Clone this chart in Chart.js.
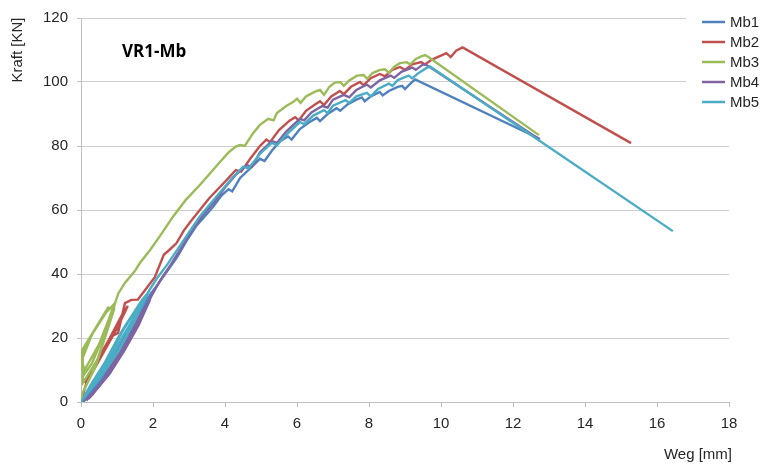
<!DOCTYPE html>
<html>
<head>
<meta charset="utf-8">
<script src="https://cdn.jsdelivr.net/npm/chart.js@4.4.0/dist/chart.umd.min.js"></script>
<style>
  html, body { margin: 0; padding: 0; background: #ffffff; }
  #wrap { width: 763px; height: 465px; position: relative; }
</style>
</head>
<body>
<div id="wrap"><canvas id="c" width="763" height="465"></canvas></div>
<script>
// Load-displacement curves, test series VR1-Mb: [Weg mm, Kraft kN]
const seriesNames  = ['Mb1', 'Mb2', 'Mb3', 'Mb4', 'Mb5'];
const seriesColors = ['#4F81BD', '#C0504D', '#9BBB59', '#8064A2', '#4BACC6'];
const xTicks = [0, 2, 4, 6, 8, 10, 12, 14, 16, 18];
const yTicks = [0, 20, 40, 60, 80, 100, 120];

const mb1 = [
  [0.0,0],[0.5,6],[1.0,14],[1.5,24],[1.85,32],[1.7,30.5],[1.3,22.5],[0.85,13.5],[0.35,4],[0.15,0.5],
  [0.65,7.5],[1.15,16.5],[1.6,26],[1.9,33],[1.75,31],[1.35,23.5],[0.9,14.5],[0.4,5],[0.2,1],
  [0.8,9],[1.3,18.5],[1.75,29],[1.92,33.5],[1.8,31.5],[1.4,24.5],[0.95,15.5],[0.45,6],[0.25,1.5],
  [0.75,9.5],[1.25,18.5],[1.7,28.5],[1.95,34],[2.15,37],[2.4,41],[2.67,45.3],[2.94,50.5],[3.2,55],
  [3.4,57.5],[3.67,61],[3.9,64.5],[4.1,66.5],[4.2,65.8],[4.42,70],[4.7,73],[4.97,76],[5.1,75.3],
  [5.3,78.5],[5.53,81.5],[5.75,83],[5.85,82],[6.08,85.3],[6.35,87.5],[6.55,88.8],[6.64,87.8],
  [6.85,90],[7.1,91.8],[7.2,91],[7.4,93],[7.65,94.5],[7.8,95.2],[7.88,94],[8.05,95.5],[8.3,96.9],
  [8.38,95.8],[8.55,97.2],[8.8,98.5],[8.92,98.8],[9.0,97.8],[9.15,99.5],[9.28,100.8],[12.75,82.2]
];

const mb2 = [
  [0.0,0],[0.15,6],[0.4,11],[0.7,17],[1.0,23],[1.3,30],[1.15,27.5],[0.8,20],[0.45,13],[0.2,8],
  [0.1,6],[0.35,10],[0.6,15],[0.85,20.5],[1.03,21.6],[1.1,25],[1.22,30.9],[1.4,31.9],[1.58,32],
  [1.85,36],[2.05,39],[2.3,46],[2.45,47.5],[2.65,49.6],[2.85,53.5],[3.05,56.5],[3.3,60],[3.55,63.5],
  [3.8,66.5],[4.05,69.4],[4.3,72.5],[4.45,72],[4.7,76],[4.97,80],[5.15,82],[5.25,81.2],[5.5,85],
  [5.8,88],[5.95,89],[6.05,88],[6.25,91],[6.5,93],[6.64,94],[6.75,92.8],[6.95,95.5],[7.19,97.2],
  [7.3,96.2],[7.5,98.5],[7.75,100],[7.85,99],[8.05,101.2],[8.3,102.5],[8.45,101.8],[8.65,103.8],
  [8.86,104.7],[9.0,103.8],[9.2,105.5],[9.45,106.2],[9.55,105.5],[9.75,107],[9.95,108],[10.15,109],
  [10.27,107.8],[10.42,109.8],[10.6,110.8],[15.28,80.9]
];

const mb3 = [
  [0.0,0],[0.05,3],[0.4,11],[0.75,23],[0.92,29],[0.75,29.5],[0.4,23],[0.02,16],[0.05,8],[0.3,12],
  [0.6,20],[0.9,30],[0.7,28.5],[0.35,22],[0.05,15],[0.05,6],[0.45,13],[0.8,25],[0.95,31],[0.7,28],
  [0.3,21],[0.02,13],[0.1,10],[0.5,18],[0.9,29.5],[1.04,34],[1.22,37.2],[1.5,41],[1.64,43.5],
  [1.92,47.5],[2.2,52],[2.56,58],[2.9,63],[3.3,67.8],[3.55,71],[3.86,75],[4.1,78],[4.3,79.8],
  [4.42,80.3],[4.55,80],[4.78,84],[4.97,86.6],[5.2,88.5],[5.35,88],[5.44,90.3],[5.7,92.5],[5.9,93.8],
  [6.0,94.8],[6.1,93.5],[6.25,95.5],[6.5,97],[6.64,97.5],[6.75,96],[6.9,98.5],[7.05,99.8],[7.2,100],
  [7.3,98.8],[7.45,100.5],[7.67,102],[7.85,102.2],[7.95,101],[8.1,102.8],[8.3,103.8],[8.45,104],
  [8.55,102.8],[8.7,104.8],[8.86,105.9],[9.05,106.2],[9.15,105.5],[9.3,107.2],[9.45,108],[9.56,108.4],
  [9.65,107.8],[12.72,83.4]
];

const mb4 = [
  [0.05,0],[0.4,3.5],[0.8,9],[1.2,16],[1.6,24],[1.8,29],[1.6,26],[1.1,15.5],[0.6,6.5],[0.2,1],
  [0.25,1.5],[0.7,8],[1.2,17],[1.7,27],[1.85,30.5],[1.65,27.5],[1.15,17.5],[0.65,7.5],[0.3,2],
  [0.75,8.5],[1.25,17.5],[1.72,27.5],[1.95,33],[2.2,38],[2.5,43],[2.8,48.5],[3.1,54],[3.4,58.5],
  [3.7,62.5],[4.0,67],[4.3,71],[4.6,74],[4.75,73.5],[4.97,78],[5.3,81.5],[5.45,81],[5.7,84.5],
  [6.08,88.5],[6.2,88],[6.4,90.5],[6.7,92.5],[6.85,92],[7.0,94.5],[7.3,96],[7.45,95.2],[7.65,97.5],
  [7.94,99.2],[8.05,98.3],[8.3,100.5],[8.6,102],[8.7,101.3],[8.9,103.2],[9.2,104.5],[9.3,103.8],
  [9.5,105.5],[9.6,105.3],[12.72,82.2]
];

const mb5 = [
  [0.0,0],[0.4,6],[0.9,15],[1.4,25],[1.8,33],[1.65,31],[1.2,23],[0.7,13],[0.25,5],[0.1,2],
  [0.55,8],[1.1,17],[1.55,27],[1.85,34],[1.7,32],[1.15,22.5],[0.6,11],[0.2,3.5],[0.05,1],
  [0.5,7],[1.05,16],[1.5,25.5],[1.82,33],[1.6,30],[1.05,20.5],[0.55,10],[0.15,2.5],
  [0.45,7.5],[0.95,16.5],[1.45,26],[1.9,35],[2.1,38.5],[2.4,43],[2.7,48],[3.0,53],[3.3,58],
  [3.6,62],[3.9,66],[4.2,70],[4.5,73.5],[4.65,73],[4.97,77.5],[5.3,81],[5.45,80.3],[5.7,83.5],
  [6.08,87.5],[6.2,86.8],[6.45,89.5],[6.75,91.2],[6.85,90.3],[7.0,92.6],[7.35,94.3],[7.45,93.5],
  [7.65,95.5],[7.94,96.6],[8.05,95.5],[8.25,97.8],[8.55,99.5],[8.65,98.8],[8.8,100.6],[9.1,102],
  [9.2,101.2],[9.4,103],[9.6,104.4],[9.7,104.8],[16.44,53.4]
];

const seriesData = [mb1, mb2, mb3, mb4, mb5];
const FONT = '"Liberation Sans", Arial, sans-serif';
const AXIS_GREY = '#bfbfbf';
const GRID_GREY = '#cfcfcf';
const TEXT = '#262626';

// Legend, chart title and axis captions painted on top of the plot
const decor = {
  id: 'decor',
  afterDraw(chart) {
    const ctx = chart.ctx;
    ctx.save();
    // legend panel (white, hides the grid behind it)
    ctx.fillStyle = '#ffffff';
    ctx.fillRect(686, 0, 77, 112);
    ctx.font = '15px ' + FONT;
    ctx.textBaseline = 'middle';
    ctx.textAlign = 'left';
    seriesNames.forEach((name, i) => {
      const y = 22 + i * 20;
      ctx.strokeStyle = seriesColors[i];
      ctx.lineWidth = 2.5;
      ctx.beginPath();
      ctx.moveTo(702, y);
      ctx.lineTo(725, y);
      ctx.stroke();
      ctx.fillStyle = TEXT;
      ctx.fillText(name, 730, y + 1);
    });
    // chart title
    ctx.font = 'bold 17px "Open Sans", ' + FONT;
    ctx.textBaseline = 'alphabetic';
    ctx.fillStyle = '#000000';
    ctx.fillText('VR1-Mb', 122, 57);
    // axis captions
    ctx.font = '15px ' + FONT;
    ctx.fillStyle = TEXT;
    ctx.textAlign = 'right';
    ctx.textBaseline = 'middle';
    ctx.fillText('Weg [mm]', 732, 455);
    ctx.translate(18, 50);
    ctx.rotate(-Math.PI / 2);
    ctx.textAlign = 'center';
    ctx.fillText('Kraft [KN]', 0, 0);
    ctx.restore();
  }
};

new Chart(document.getElementById('c'), {
  type: 'line',
  data: {
    datasets: seriesData.map((pts, i) => ({
      label: seriesNames[i],
      data: pts.map(p => ({ x: p[0], y: p[1] })),
      borderColor: seriesColors[i],
      backgroundColor: seriesColors[i],
      borderWidth: 2.4,
      pointRadius: 0,
      tension: 0,
      fill: false,
      order: seriesData.length - i
    }))
  },
  options: {
    responsive: false,
    animation: false,
    devicePixelRatio: 1,
    layout: { padding: { top: 18, right: 34, left: 0, bottom: 0 } },
    plugins: { legend: { display: false }, tooltip: { enabled: false } },
    scales: {
      x: {
        type: 'linear',
        min: 0, max: 18,
        afterFit: s => { s.height = 63; },
        afterBuildTicks: s => { s.ticks = xTicks.map(v => ({ value: v })); },
        ticks: { font: { size: 15, family: FONT }, color: TEXT, padding: 8, maxRotation: 0 },
        grid: { drawOnChartArea: false, drawTicks: true, tickLength: 5, color: AXIS_GREY },
        border: { display: true, color: AXIS_GREY, width: 1 }
      },
      y: {
        type: 'linear',
        min: 0, max: 120,
        afterFit: s => { s.width = 81; },
        afterBuildTicks: s => { s.ticks = yTicks.map(v => ({ value: v })); },
        ticks: { font: { size: 15, family: FONT }, color: TEXT, padding: 9 },
        grid: { color: GRID_GREY, tickColor: AXIS_GREY, tickLength: 4, drawTicks: true },
        border: { display: true, color: AXIS_GREY, width: 1 }
      }
    }
  },
  plugins: [decor]
});
</script>
</body>
</html>
